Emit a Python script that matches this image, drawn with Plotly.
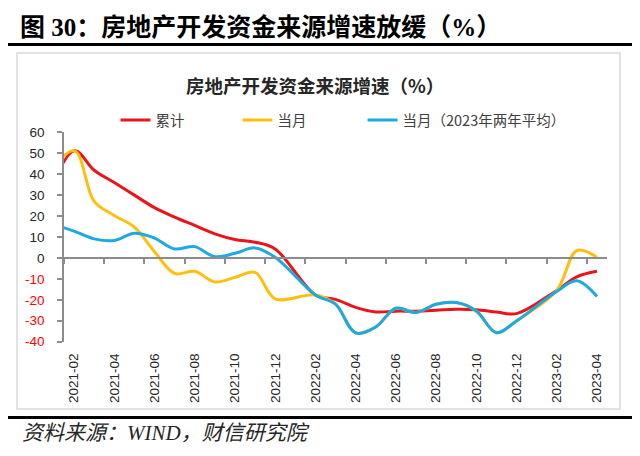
import plotly.graph_objects as go

# ---------------- data ----------------
months = ["2020-12", "2021-01", "2021-02", "2021-03", "2021-04", "2021-05", "2021-06",
          "2021-07", "2021-08", "2021-09", "2021-10", "2021-11", "2021-12",
          "2022-01", "2022-02", "2022-03", "2022-04", "2022-05", "2022-06",
          "2022-07", "2022-08", "2022-09", "2022-10", "2022-11", "2022-12",
          "2023-01", "2023-02", "2023-03", "2023-04"]

cumulative = [8.1, None, 51.2, 41.9, 36.0, 30.0, 24.0,
              19.5, 15.5, 11.5, 8.8, 7.5, 4.3,
              None, -17.7, -19.8, -23.6, -25.8, -25.4,
              -25.4, -25.0, -24.5, -24.7, -25.8, -26.6,
              None, -15.5, -9.0, -6.4]

monthly = [30.0, None, 51.2, 27.0, 20.3, 14.7, 3.0,
           -7.4, -6.4, -11.5, -9.3, -6.9, -19.5,
           None, -17.7, -22.1, -35.8, -33.0, -24.0,
           -26.1, -22.1, -21.3, -25.3, -35.7, -30.1,
           None, -15.5, 3.5, 0.3]

monthly_2y = [19.0, None, 12.8, 9.1, 8.3, 11.8, 9.5,
              4.3, 5.4, 0.6, 2.2, 4.8, 0.3,
              None, -17.7, -22.1, -35.8, -33.0, -24.0,
              -26.1, -22.1, -21.3, -25.3, -35.7, -30.1,
              None, -16.0, -10.9, -18.4]

series_names = ["累计", "当月", "当月（2023年两年平均）"]
series_colors = ["#E8161C", "#FFBE10", "#1CAAE0"]

yticks = [-40, -30, -20, -10, 0, 10, 20, 30, 40, 50, 60]

main_title = "图 30：房地产开发资金来源增速放缓（%）"
chart_title = "房地产开发资金来源增速（%）"
source_note = "资料来源：WIND，财信研究院"

# ---------------- geometry ----------------
# the page body has an 8px margin, so the figure is sized to fit the window
OFF = 8
W, H = 640 - 2 * OFF, 456 - 2 * OFF
px = lambda v: (v - OFF) / W
py = lambda v: 1 - (v - OFF) / H

x_dom = [px(64), px(607)]
y_dom = [py(341.7), py(132.3)]
y_min, y_max = yticks[0], yticks[-1]
zero_pos = y_dom[0] + (0 - y_min) / (y_max - y_min) * (y_dom[1] - y_dom[0])

idx = list(range(len(months)))
first_shown = months.index("2021-02")
x_range = [first_shown - 0.5, len(months) - 0.5]

legend_ids = ["legend", "legend2", "legend3"]
legend_text_x = [158, 280, 405]

fig = go.Figure()
for name, vals, col, lg in zip(series_names, [cumulative, monthly, monthly_2y],
                               series_colors, legend_ids):
    fig.add_trace(go.Scatter(
        x=idx, y=vals, name=name, mode="lines", legend=lg,
        line=dict(color=col, width=3, shape="spline", smoothing=1.0),
        connectgaps=True, hoverinfo="skip"))

# dummy trace so the zero-line axis is drawn
fig.add_trace(go.Scatter(x=[idx[first_shown]], y=[None], xaxis="x2", showlegend=False,
                         hoverinfo="skip", mode="lines"))

yticktext = [f'<span style="color:#FF0000">{v}</span>' if v < 0 else str(v) for v in yticks]

axis_grey = "#8C8C8C"
tick_font = dict(family="Liberation Sans, Arial, sans-serif", size=13.5, color="#262626")
legend_font = dict(family="Noto Sans CJK SC", size=14.5, color="#404040")

layout_legends = {}
for lg, tx in zip(legend_ids, legend_text_x):
    layout_legends[lg] = dict(orientation="h", x=px(tx - 42.5), y=py(120), xanchor="left",
                              yanchor="middle", font=legend_font, bgcolor="rgba(0,0,0,0)")

fig.update_layout(
    width=W, height=H, autosize=False,
    margin=dict(l=0, r=0, t=0, b=0),
    paper_bgcolor="white", plot_bgcolor="white",
    showlegend=True,
    xaxis=dict(domain=x_dom, range=x_range, tickmode="array",
               tickvals=idx[first_shown::2], ticktext=months[first_shown::2],
               tickangle=-90, showline=False, ticks="", showgrid=False, zeroline=False,
               tickfont=tick_font, ticklabelstandoff=8, anchor="y", automargin=False),
    xaxis2=dict(overlaying="x", anchor="free", position=zero_pos, range=x_range,
                tickmode="linear", tick0=x_range[0], dtick=2, ticks="outside", ticklen=5,
                tickcolor=axis_grey, tickwidth=1.5, showline=True, linecolor=axis_grey,
                linewidth=1.5, showticklabels=False, showgrid=False, zeroline=False),
    yaxis=dict(domain=y_dom, range=[y_min, y_max], tickmode="array", tickvals=yticks,
               ticktext=yticktext, ticks="outside", ticklen=5, tickcolor=axis_grey,
               tickwidth=1.5, showline=True, linecolor=axis_grey, linewidth=1.5,
               showgrid=False, zeroline=False, tickfont=tick_font, ticklabelstandoff=10,
               automargin=False),
    **layout_legends,
)

# frame & rules
fig.add_shape(type="rect", xref="paper", yref="paper", x0=px(17), x1=px(620),
              y0=py(409), y1=py(53), line=dict(color="#D9D9D9", width=1.5),
              fillcolor="rgba(0,0,0,0)", layer="below")
fig.add_shape(type="line", xref="paper", yref="paper", x0=px(3), x1=px(635),
              y0=py(44.5), y1=py(44.5), line=dict(color="black", width=3))
fig.add_shape(type="line", xref="paper", yref="paper", x0=px(3), x1=px(635),
              y0=py(417.5), y1=py(417.5), line=dict(color="black", width=3))

fig.add_annotation(text=f"<b>{main_title}</b>", xref="paper", yref="paper",
                   x=px(18), y=py(28), xanchor="left", yanchor="middle", showarrow=False,
                   font=dict(family="Liberation Serif, Noto Sans CJK SC", size=25, color="black"))
fig.add_annotation(text=f"<b>{chart_title}</b>", xref="paper", yref="paper",
                   x=px(315), y=py(85), xanchor="center", yanchor="middle", showarrow=False,
                   font=dict(family="Noto Sans CJK SC", size=18.5, color="#262626"))
fig.add_annotation(text=f"<i>{source_note}</i>", xref="paper", yref="paper",
                   x=px(20), y=py(433), xanchor="left", yanchor="middle", showarrow=False,
                   font=dict(family="Liberation Serif, Noto Sans CJK SC", size=21, color="#262626"))

fig.write_html("out.html")
